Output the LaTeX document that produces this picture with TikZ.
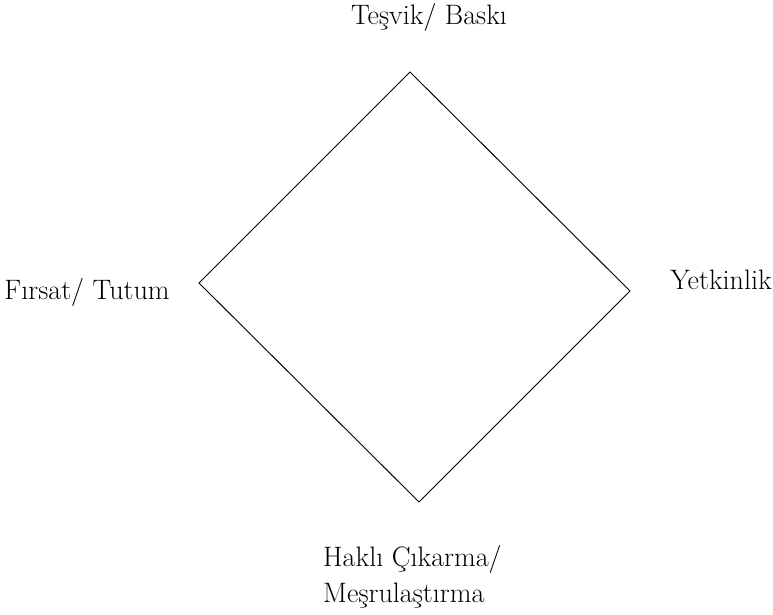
\documentclass[tikz,border=0pt]{standalone}
\usepackage{tikz}
\usetikzlibrary{positioning}
\tikzset{lbl/.style={font=\fontsize{24}{31}\selectfont,inner sep=0pt}}
\begin{document}
\begin{tikzpicture}[scale=1.0]
	\useasboundingbox (0,0) rectangle (23.19,18.42);
	\coordinate (top) at (12.30,16.26);
	\coordinate (right) at (18.90,9.69);
	\coordinate (bottom) at (12.57,3.36);
	\coordinate (left) at (5.97,9.93);
	\draw[line width=0.8pt] (top) -- (right) -- (bottom) -- (left) -- cycle;
	\node[lbl,anchor=base] (tesvik) at (12.87,17.67) {Teşvik/ Baskı};
	\node[lbl,anchor=base] (firsat) at (2.61,9.42) {Fırsat/ Tutum};
	\node[lbl,anchor=base] (yetki) at (21.63,9.72) {Yetkinlik};
	\node[lbl,anchor=west,align=left] (hakli) at (9.69,1.11) {Haklı Çıkarma/\\Meşrulaştırma};
\end{tikzpicture}
\end{document}
